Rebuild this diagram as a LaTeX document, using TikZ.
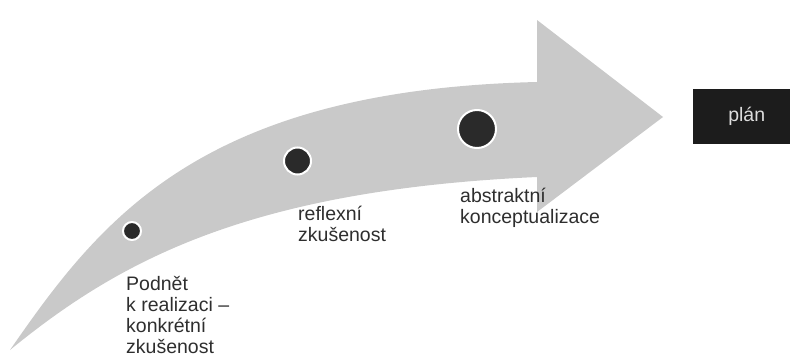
\documentclass[tikz,border=0pt]{standalone}
\usepackage{fontspec}
\setmainfont{Liberation Sans}
\definecolor{arrowgray}{HTML}{C9C9C9}
\definecolor{dotdark}{HTML}{2A2A2A}
\definecolor{textdark}{HTML}{2E2E2E}
\definecolor{boxdark}{HTML}{1C1C1C}
\definecolor{boxtext}{HTML}{DDDDDD}
\begin{document}
\begin{tikzpicture}[x=1pt,y=-1pt,
  dotnode/.style={circle,fill=dotdark,draw=white,line width=2pt,inner sep=0pt},
  lbl/.style={anchor=base west,align=left,inner sep=0pt,text=textdark,
    font=\fontsize{19.5}{21}\selectfont},
  planbox/.style={fill=boxdark,text=boxtext,minimum width=97pt,minimum height=55pt,
    inner sep=0pt,font=\fontsize{19.5}{21}\selectfont}]
\useasboundingbox (0,0) rectangle (790,356);
% curved arrow
\fill[arrowgray] (10,350) .. controls (100,220) and (200,90) .. (537,82)
  -- (537,20) -- (663,117) -- (537,212) -- (537,177)
  .. controls (250,190) and (120,260) .. (10,350) -- cycle;
% dots
\node[dotnode,minimum size=18pt] (d1) at (132,231) {};
\node[dotnode,minimum size=27pt] (d2) at (297.5,161) {};
\node[dotnode,minimum size=38pt] (d3) at (477,129) {};
% labels (base anchor = baseline of last line)
\node[lbl] (l1) at (126,353) {Podnět\\k realizaci –\\konkrétní\\zkušenost};
\node[lbl] (l2) at (298,241) {reflexní\\zkušenost};
\node[lbl] (l3) at (460,223) {abstraktní\\konceptualizace};
% plan box
\node[planbox,anchor=west] (plan) at (693,116.5) {\hspace*{10pt}plán};
\end{tikzpicture}
\end{document}
